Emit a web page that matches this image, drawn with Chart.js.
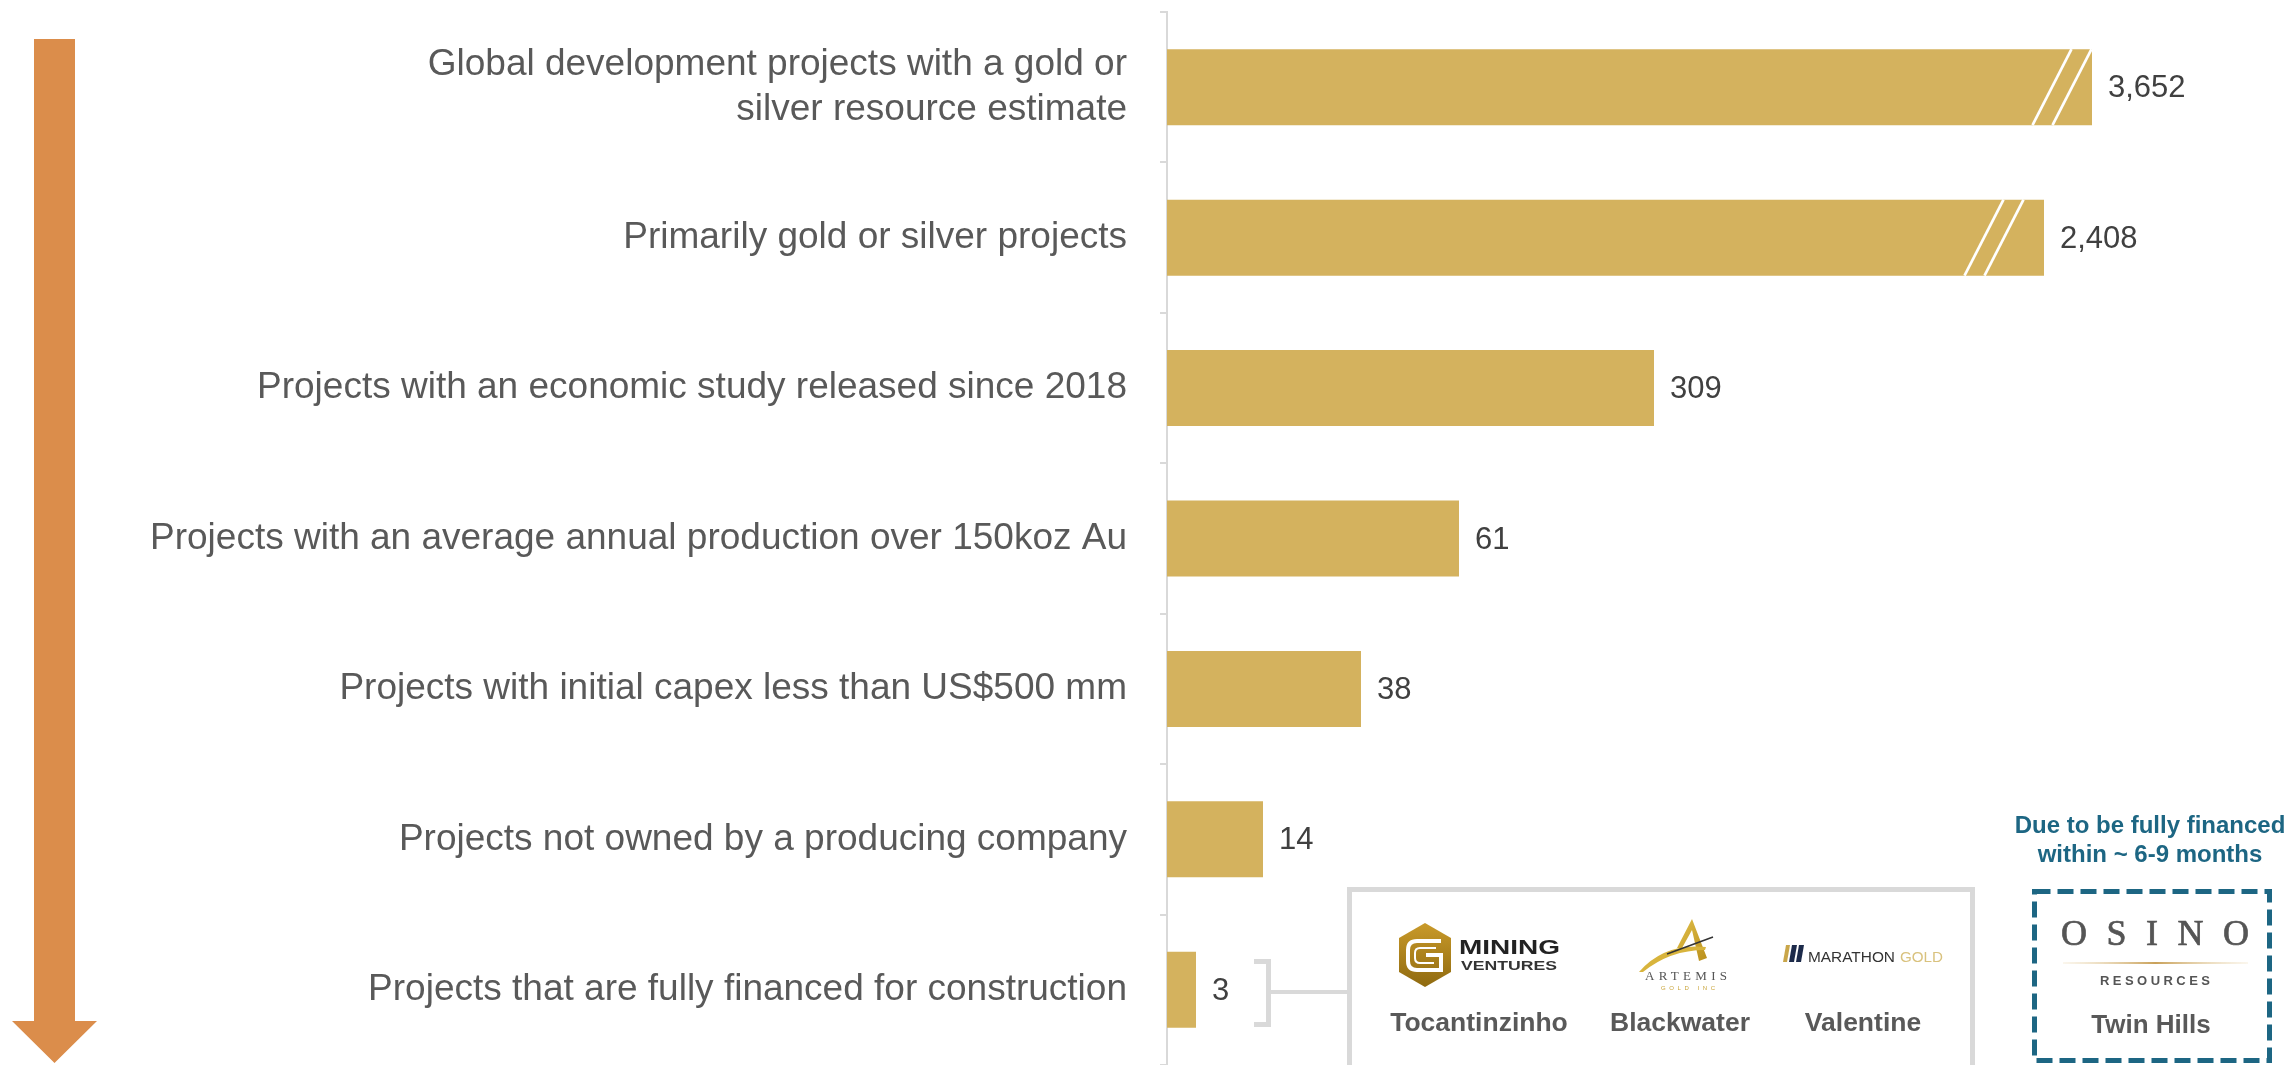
<!DOCTYPE html>
<html>
<head>
<meta charset="utf-8">
<script src="https://cdn.jsdelivr.net/npm/chart.js@4.4.0/dist/chart.umd.min.js"></script>
<style>
  html, body { margin: 0; padding: 0; background: #ffffff; overflow: hidden; }
  #wrap { position: relative; width: 2292px; height: 1065px; }
  #c { position: absolute; left: 0; top: 0; }
  #overlay { position: absolute; left: 0; top: 0; pointer-events: none; }
</style>
</head>
<body>
<div id="wrap">
  <canvas id="c" width="2292" height="1065"></canvas>
  <svg id="overlay" width="2292" height="1065" viewBox="0 0 2292 1065" xmlns="http://www.w3.org/2000/svg">
    <defs>
      <linearGradient id="hexGold" x1="0" y1="0" x2="0" y2="1">
        <stop offset="0" stop-color="#c99a2a"/>
        <stop offset="1" stop-color="#8f6a10"/>
      </linearGradient>
      <linearGradient id="aGold" x1="0" y1="0" x2="1" y2="1">
        <stop offset="0" stop-color="#e2c04a"/>
        <stop offset="1" stop-color="#b98f1c"/>
      </linearGradient>
      <linearGradient id="osinoLine" x1="0" y1="0" x2="1" y2="0">
        <stop offset="0" stop-color="#e8d3a6" stop-opacity="0.2"/>
        <stop offset="0.5" stop-color="#c9a15a"/>
        <stop offset="1" stop-color="#e8d3a6" stop-opacity="0.2"/>
      </linearGradient>
    </defs>
    <!-- funnel arrow -->
    <polygon points="34,39 75,39 75,1021 97,1021 54.5,1063 12,1021 34,1021" fill="#db8d4b"/>
    <!-- bracket and connector -->
    <path d="M1254,961.5 H1268.5 V1024.5 H1254" fill="none" stroke="#d9d9d9" stroke-width="5"/>
    <path d="M1271,992 H1349" fill="none" stroke="#d9d9d9" stroke-width="4"/>
    <!-- fully financed box -->
    <rect x="1349.5" y="889.5" width="623" height="220" fill="#ffffff" stroke="#d9d9d9" stroke-width="5"/>
    <!-- Mining Ventures logo -->
    <polygon points="1425,923 1451,938 1451,972 1425,987 1399,972 1399,938" fill="url(#hexGold)"/>
    <path d="M1441,941 H1417 Q1408,941 1408,950 V961 Q1408,970 1417,970 H1441 V955 H1426" fill="none" stroke="#ffffff" stroke-width="4"/>
    <path d="M1436,948 H1420 Q1415,948 1415,953 V958 Q1415,963 1420,963 H1434" fill="none" stroke="#ffffff" stroke-width="2"/>
    <text x="1459" y="954" font-family="'Liberation Sans', Arial, sans-serif" font-weight="bold" font-size="21" fill="#222222" textLength="101" lengthAdjust="spacingAndGlyphs">MINING</text>
    <text x="1461" y="970" font-family="'Liberation Sans', Arial, sans-serif" font-weight="bold" font-size="13.5" fill="#333333" textLength="96" lengthAdjust="spacingAndGlyphs">VENTURES</text>
    <!-- Artemis logo -->
    <path d="M1692,919 L1677,948 L1682,948 L1692,930 L1699,961 L1707,958 Z" fill="url(#aGold)"/>
    <path d="M1639,972 Q1664,943 1706,947 L1705,950 Q1670,950 1643,972 Z" fill="#d8b43c"/>
    <path d="M1667,954 L1713,937" stroke="#333333" stroke-width="1.6"/>
    <text x="1645" y="980" font-family="'Liberation Serif', 'Times New Roman', serif" font-size="13" fill="#555555" textLength="82" lengthAdjust="spacing">ARTEMIS</text>
    <text x="1661" y="990" font-family="'Liberation Sans', Arial, sans-serif" font-size="6" fill="#c9a43a" textLength="54" lengthAdjust="spacing">GOLD INC</text>
    <!-- Marathon Gold logo -->
    <polygon points="1783,962 1786,945 1790,945 1787,962" fill="#c9a64a"/>
    <polygon points="1789,962 1792,945 1797,945 1794,962" fill="#1c2a4a"/>
    <polygon points="1796,962 1799,945 1804,945 1801,962" fill="#1c2a4a"/>
    <text x="1808" y="962" font-family="'Liberation Sans', Arial, sans-serif" font-size="14" fill="#333333" textLength="87" lengthAdjust="spacingAndGlyphs">MARATHON</text>
    <text x="1900" y="962" font-family="'Liberation Sans', Arial, sans-serif" font-size="14" fill="#d9c27e" textLength="43" lengthAdjust="spacingAndGlyphs">GOLD</text>
    <!-- project names -->
    <g font-family="'Liberation Sans', Arial, sans-serif" font-weight="bold" font-size="26.5" fill="#595959" text-anchor="middle">
      <text x="1479" y="1031">Tocantinzinho</text>
      <text x="1680" y="1031">Blackwater</text>
      <text x="1863" y="1031">Valentine</text>
    </g>
    <!-- Osino annotation -->
    <g font-family="'Liberation Sans', Arial, sans-serif" font-weight="bold" font-size="24" fill="#1d6683" text-anchor="middle">
      <text x="2150" y="833">Due to be fully financed</text>
      <text x="2150" y="862">within ~ 6-9 months</text>
    </g>
    <rect x="2034.5" y="891.5" width="235" height="169" fill="none" stroke="#1d6683" stroke-width="5" stroke-dasharray="16 7"/>
    <text x="2061" y="945" font-family="'Liberation Serif', 'Times New Roman', serif" font-size="36" fill="#555555" stroke="#555555" stroke-width="0.7" textLength="188" lengthAdjust="spacing">OSINO</text>
    <rect x="2063" y="962" width="185" height="2" fill="url(#osinoLine)"/>
    <text x="2100" y="985" font-family="'Liberation Sans', Arial, sans-serif" font-weight="bold" font-size="13" fill="#555555" textLength="110" lengthAdjust="spacing">RESOURCES</text>
    <text x="2151" y="1033" font-family="'Liberation Sans', Arial, sans-serif" font-weight="bold" font-size="26" fill="#595959" text-anchor="middle">Twin Hills</text>
  </svg>
</div>
<script>
// ---- data ----
const categories = [
  ["Global development projects with a gold or", "silver resource estimate"],
  "Primarily gold or silver projects",
  "Projects with an economic study released since 2018",
  "Projects with an average annual production over 150koz Au",
  "Projects with initial capex less than US$500 mm",
  "Projects not owned by a producing company",
  "Projects that are fully financed for construction"
];
const projectCounts = [3652, 2408, 309, 61, 38, 14, 3];
// visual bar length on the chart's broken (non-linear) scale
const barDisplayLength = [925, 877, 487, 292, 194, 96, 29];
const brokenBars = [true, true, false, false, false, false, false];

// ---- plugins ----
const breakInsets = [0, 20];
const valueLabelPlugin = {
  id: 'valueLabels',
  afterDatasetsDraw(chart) {
    const ctx = chart.ctx;
    const meta = chart.getDatasetMeta(0);
    ctx.save();
    // axis break marks
    meta.data.forEach((bar, i) => {
      if (!brokenBars[i]) return;
      const top = bar.y - bar.height / 2;
      const bottom = bar.y + bar.height / 2;
      const inset = breakInsets[i] || 0;
      ctx.strokeStyle = '#ffffff';
      ctx.lineWidth = 2.7;
      [0, 20].forEach(shift => {
        ctx.beginPath();
        ctx.moveTo(bar.x - inset - 0.5 - shift, top);
        ctx.lineTo(bar.x - inset - 39.5 - shift, bottom);
        ctx.stroke();
      });
    });
    // value labels
    ctx.fillStyle = '#404040';
    ctx.font = "31px 'Liberation Sans', Arial, sans-serif";
    ctx.textBaseline = 'middle';
    ctx.textAlign = 'left';
    meta.data.forEach((bar, i) => {
      ctx.fillText(projectCounts[i].toLocaleString('en-US'), bar.x + 16, bar.y + 1.5);
    });
    ctx.restore();
  }
};

new Chart(document.getElementById('c'), {
  type: 'bar',
  data: {
    labels: categories,
    datasets: [{
      data: barDisplayLength,
      backgroundColor: '#d4b25e',
      borderWidth: 0,
      barPercentage: 0.505,
      categoryPercentage: 1
    }]
  },
  options: {
    indexAxis: 'y',
    responsive: false,
    animation: false,
    devicePixelRatio: 1,
    layout: { padding: { top: 12, right: 0, bottom: 0, left: 0 } },
    plugins: { legend: { display: false }, tooltip: { enabled: false } },
    scales: {
      x: { display: false, min: 0, max: 1125 },
      y: {
        position: 'left',
        offset: true,
        grid: { display: true, drawOnChartArea: false, drawTicks: true, tickLength: 7, color: '#d9d9d9', lineWidth: 2, offset: true },
        border: { display: true, color: '#d9d9d9', width: 2 },
        ticks: {
          color: '#595959',
          font: { family: "'Liberation Sans', Arial, sans-serif", size: 37, lineHeight: 1.22 },
          padding: 33,
          autoSkip: false
        },
        afterFit(scale) {
          scale.width = 1167;
          scale.paddingTop = 0;
          scale.paddingBottom = 0;
        }
      }
    }
  },
  plugins: [valueLabelPlugin]
});
</script>
</body>
</html>
